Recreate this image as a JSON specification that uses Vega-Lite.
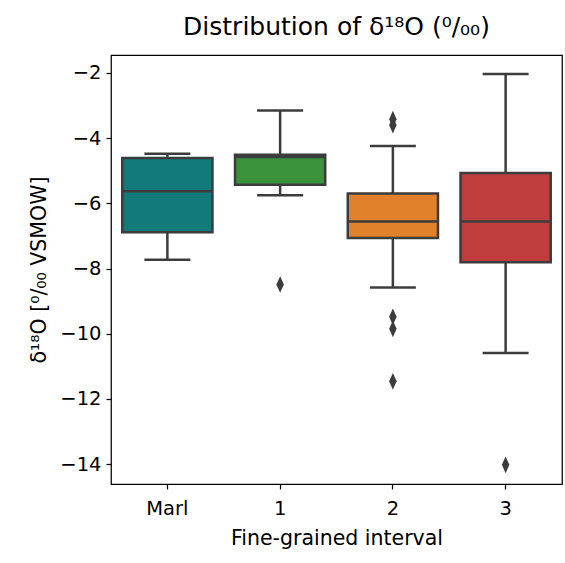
{
  "$schema": "https://vega.github.io/schema/vega-lite/v6.json",
  "autosize": "none",
  "width": 451,
  "height": 429,
  "padding": {"left": 111, "top": 55, "right": 2, "bottom": 79},
  "background": "white",
  "config": {
    "font": "DejaVu Sans",
    "view": {"stroke": "#000000", "strokeWidth": 1.25},
    "axis": {"grid": false, "domain": false, "tickColor": "#000000", "tickWidth": 1.25, "tickSize": 5, "labelColor": "#000000", "labelFontSize": 19.5, "titleFontSize": 20.5, "titleFontWeight": "normal", "titleColor": "#000000", "labelFont": "DejaVu Sans", "titleFont": "DejaVu Sans"}
  },
  "title": {"text": "Distribution of δ¹⁸O (⁰/₀₀)", "fontSize": 25, "fontWeight": "normal", "font": "DejaVu Sans", "color": "#000000", "offset": 15},
  "datasets": {
    "boxes": [
      {"group": "Marl", "lower": -7.73, "q1": -6.89, "median": -5.63, "q3": -4.61, "upper": -4.48},
      {"group": "1", "lower": -5.75, "q1": -5.43, "median": -4.58, "q3": -4.51, "upper": -3.15},
      {"group": "2", "lower": -8.58, "q1": -7.06, "median": -6.56, "q3": -5.70, "upper": -4.24},
      {"group": "3", "lower": -10.59, "q1": -7.81, "median": -6.56, "q3": -5.07, "upper": -2.03}
    ],
    "outliers": [
      {"group": "1", "value": -8.49},
      {"group": "2", "value": -3.42},
      {"group": "2", "value": -3.6},
      {"group": "2", "value": -9.48},
      {"group": "2", "value": -9.85},
      {"group": "2", "value": -11.46},
      {"group": "3", "value": -14.02}
    ]
  },
  "encoding": {
    "x": {"field": "group", "type": "nominal", "sort": ["Marl", "1", "2", "3"],
      "scale": {"domain": ["Marl", "1", "2", "3"], "paddingInner": 0, "paddingOuter": 0},
      "axis": {"title": "Fine-grained interval", "labelAngle": 0, "labelPadding": 10, "titlePadding": 11}}
  },
  "layer": [
    {
      "data": {"name": "boxes"},
      "mark": {"type": "rule", "color": "#3c3c3c", "strokeWidth": 2.5},
      "encoding": {
        "y": {"field": "lower", "type": "quantitative", "scale": {"domain": [-14.61, -1.45], "nice": false, "zero": false},
          "axis": {"title": "δ¹⁸O [⁰/₀₀ VSMOW]", "values": [-14, -12, -10, -8, -6, -4, -2], "labelPadding": 5, "titlePadding": 10}},
        "y2": {"field": "upper"}
      }
    },
    {
      "data": {"name": "boxes"},
      "mark": {"type": "bar", "width": {"band": 0.8}, "stroke": "#3c3c3c", "strokeWidth": 2.5, "opacity": 1},
      "encoding": {
        "y": {"field": "q1", "type": "quantitative"},
        "y2": {"field": "q3"},
        "color": {"field": "group", "type": "nominal", "scale": {"domain": ["Marl", "1", "2", "3"], "range": ["#127a7a", "#3a923a", "#e1812c", "#c03d3e"]}, "legend": null}
      }
    },
    {
      "data": {"name": "boxes"},
      "mark": {"type": "tick", "color": "#3c3c3c", "size": 90, "thickness": 2.5, "opacity": 1},
      "encoding": {"y": {"field": "median", "type": "quantitative"}}
    },
    {
      "data": {"name": "boxes"},
      "mark": {"type": "tick", "color": "#3c3c3c", "size": 46, "thickness": 2.5, "opacity": 1},
      "encoding": {"y": {"field": "lower", "type": "quantitative"}}
    },
    {
      "data": {"name": "boxes"},
      "mark": {"type": "tick", "color": "#3c3c3c", "size": 46, "thickness": 2.5, "opacity": 1},
      "encoding": {"y": {"field": "upper", "type": "quantitative"}}
    },
    {
      "data": {"name": "outliers"},
      "mark": {"type": "point", "shape": "M0,-1L0.45,0L0,1L-0.45,0Z", "filled": true, "color": "#3c3c3c", "size": 280, "opacity": 1},
      "encoding": {"y": {"field": "value", "type": "quantitative"}}
    }
  ]
}
